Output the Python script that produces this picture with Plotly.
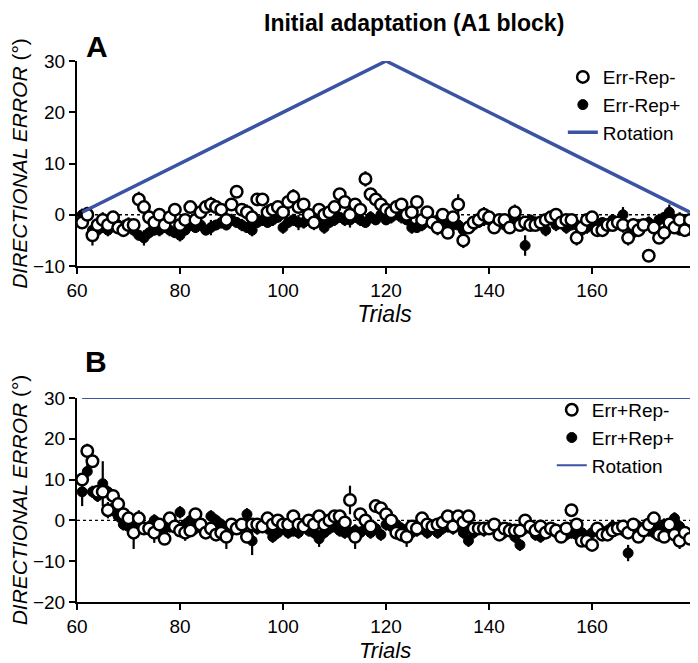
import plotly.graph_objects as go

FONT = "Liberation Sans, Arial, sans-serif"

trials = list(range(61, 180))

# Panel A: Err-Rep- (open) and Err-Rep+ (filled)
a_open = [
    -1.5, 0, -4, -2, -1, -2, -0.5, -2.5, -3, -2,
    -2, 3, 1.5, -0.5, -1.5, 0, -2, -0.5, 1, -2,
    -1, 1.5, -1, 0.5, 1.5, 2, 1.5, 1, -1, 2,
    4.5, 1, 0.5, -0.5, 3, 3, 0.5, 1, 1.5, 0.5,
    2.5, 3.5, 1.5, 2, 0, -1.5, 1, 0, 0.5, 1.5,
    4, 2.5, 0, 2, 1, 7, 4, 3, 2, 1,
    0.5, 1.5, 2, 0, 0.5, 2.5, -1, 0.5, -1.5, -2.5,
    0, -3.5, -0.5, 2, -5, -2.5, -1.5, -1, 0, -0.5,
    -2.5, -1, -1, -2.5, 0.5, -2, -1.5, -2, -2, -1.5,
    -1, -0.5, 0, -1.5, -1, -1, -4.5, -2.5, -1, -0.5,
    -3, -3, -2, -2, -1.5, -2, -4.5, -2, -3, -2,
    -8, -2.5, -4.5, -3.5, -1.5, -2.5, -1, -3, -1,
]
a_open_err = [
    1.0, 1.2, 2.0, 1.2, 1.5, 1.0, 1.2, 1.0, 1.2, 1.5,
    1.2, 1.5, 1.2, 1.0, 1.2, 1.0, 1.5, 1.0, 1.2, 1.0,
    1.0, 1.2, 1.5, 1.0, 1.2, 1.5, 1.0, 1.2, 1.5, 1.0,
    1.2, 1.0, 1.5, 1.0, 1.2, 1.0, 1.5, 1.0, 1.2, 1.0,
    1.2, 1.5, 1.0, 1.2, 1.0, 1.5, 1.0, 1.2, 1.0, 1.2,
    1.2, 1.0, 1.5, 1.0, 1.2, 1.5, 1.2, 1.0, 1.2, 1.0,
    1.0, 1.2, 1.0, 1.5, 1.0, 1.0, 1.2, 1.0, 1.2, 1.5,
    1.2, 1.0, 1.2, 2.0, 1.5, 1.0, 1.2, 1.0, 1.5, 1.0,
    1.2, 1.0, 1.0, 1.2, 1.5, 1.0, 1.2, 1.0, 1.0, 1.2,
    1.0, 1.2, 1.0, 1.0, 1.2, 1.0, 1.5, 1.0, 1.2, 1.0,
    1.2, 1.0, 1.0, 1.2, 1.0, 1.5, 1.2, 1.0, 1.2, 1.0,
    1.2, 1.0, 1.2, 1.5, 1.0, 1.2, 1.5, 1.0, 1.0,
]
a_fill = [
    0, 0.5, -3, -3, -2.5, -3, -2, -2, -2.5, -2,
    -3, -4, -4.5, -3.5, -3, -3, -2.5, -3, -3.5, -4,
    -3, -2, -2.5, -2, -3, -2.5, -2, -1.5, -2, -1,
    -1.5, -2, -2.5, -3, -1.5, -1, -1.5, -1, -0.5, -2.5,
    -1.5, -1, -1.5, -1.5, -1, -0.5, -1, -2.5, -1.5, -1,
    -0.5, -1, -1, -0.5, -1, -1.5, -0.5, -1, 0, -1,
    -0.5, 0, -0.5, -1, -2.5, -2.5, -2, -1, -1.5, -1,
    -2, -1, -2, -2, -3, -2.5, -2, -1.5, -1, -1,
    -1.5, -1, -2, -1, 0, -1.5, -6, -1, -1.5, -2,
    -3, -1, -2, -1.5, -2.5, -2, -2, -3, -2.5, -2,
    -2, -1.5, -2, -1, -1.5, 0, -4.5, -3.5, -2, -2,
    -1.5, -2, -1, -0.5, 0.5, -1, -3, -3, -3,
]
a_fill_err = [
    1.2, 1.0, 1.5, 1.2, 1.0, 1.2, 1.0, 1.2, 1.5, 1.0,
    1.2, 1.0, 1.5, 1.2, 1.0, 1.2, 1.0, 1.2, 1.0, 1.2,
    1.0, 1.2, 1.0, 1.2, 1.0, 1.5, 1.0, 1.2, 1.0, 1.2,
    1.0, 1.2, 1.0, 1.2, 1.0, 1.2, 1.0, 1.2, 1.0, 1.2,
    1.0, 1.2, 1.5, 1.2, 1.0, 1.2, 1.0, 1.2, 1.0, 1.2,
    1.0, 1.2, 1.5, 1.0, 1.2, 1.0, 1.2, 1.0, 1.2, 1.0,
    1.2, 1.0, 1.2, 1.0, 1.2, 1.0, 1.2, 1.0, 1.2, 1.0,
    1.2, 1.0, 1.2, 1.0, 1.2, 1.0, 1.2, 1.0, 1.2, 1.0,
    1.0, 1.2, 1.0, 1.2, 1.0, 1.2, 2.0, 1.0, 1.2, 1.0,
    1.2, 1.0, 1.2, 1.0, 1.2, 1.0, 1.2, 1.0, 1.2, 1.0,
    1.2, 1.0, 1.2, 1.0, 1.2, 1.5, 1.5, 1.0, 1.2, 1.0,
    1.2, 1.0, 1.2, 1.0, 1.5, 1.2, 1.0, 1.2, 1.0,
]

# Panel B: Err+Rep- (open) and Err+Rep+ (filled)
b_open = [
    10, 17, 14.5, 7, 7, 2.5, 6, 4, 1.5, 0.5,
    -3, 0.5, -2, -2, -3, -1, -4.5, 0.5, -1.5, -2.5,
    -3, -2.5, 1.5, -1, -3, -2, -3.5, -3, -4, -1,
    -2, -1, -4, -1, -1, -1.5, 0.5, -1, 0, -1,
    -1, 1, -1, -1.5, 0, -1, 1, -1, 0, 1,
    1, -0.5, 5, -4, 1.5, 0, -1.5, 3.5, 3, 1.5,
    0, -3, -3.5, -4, -1.5, -2, 0.5, -1, -1.5, -1,
    -0.5, 1, -1.5, 1, -0.5, 1, -2, -2, -2, -2,
    -1, -3.5, -2, -2.5, -2.5, -2.5, 0, -1.5, -2.5, -1.5,
    -3, -2, -2.5, -4, -2, 2.5, -1, -5, -5, -6,
    -2, -3.5, -3.5, -2.5, -2, -1.5, -3, -1, -4, -2.5,
    -1, 0.5, -3.5, -4, -1, -3.5, -5, -3, -4.5,
]
b_open_err = [
    1.5, 1.8, 1.5, 1.5, 1.2, 2.0, 1.5, 2.0, 1.5, 1.5,
    4.0, 2.0, 1.5, 1.5, 2.5, 1.5, 1.5, 1.5, 1.5, 1.5,
    2.0, 1.5, 1.5, 1.5, 1.5, 1.5, 1.5, 2.0, 3.0, 1.5,
    1.5, 1.5, 1.5, 1.5, 1.5, 1.5, 1.5, 1.2, 1.5, 1.5,
    1.5, 1.2, 1.5, 1.5, 1.2, 1.5, 1.5, 1.2, 1.5, 1.5,
    1.5, 2.0, 3.5, 3.0, 1.5, 1.5, 1.5, 1.5, 1.5, 1.5,
    1.5, 1.5, 1.5, 2.5, 1.5, 1.2, 1.5, 1.5, 1.2, 1.5,
    1.5, 1.5, 1.2, 1.5, 1.5, 1.5, 1.2, 1.5, 1.5, 1.2,
    1.5, 1.5, 1.5, 1.2, 1.5, 1.5, 1.5, 1.2, 1.5, 1.5,
    1.5, 1.2, 1.5, 1.5, 1.5, 1.5, 1.5, 1.5, 1.5, 1.5,
    1.5, 1.2, 1.5, 1.5, 1.2, 1.5, 1.5, 1.5, 1.5, 1.2,
    1.5, 1.5, 1.5, 1.5, 1.2, 1.5, 2.0, 1.5, 1.5,
]
b_fill = [
    7, 12, 7, 6, 9, 7, 3, 1, -1, -1.5,
    -2, -1.5, -2, -1.5, 0, -2.5, -2, -1.5, -1, 2,
    -1, 0, -2, -1, -2.5, 1, 0, -1, -2, -2.5,
    -1.5, -2, 1.5, -5, -2, -1.5, -2, -4, -3, -2,
    -3, -2.5, -3, -1.5, -2.5, -3, -4.5, -3, -2, -1.5,
    -2.5, -3, -3, -2.5, -3, -2, -3, -2, -3.5, -1,
    -1.5, -1, -2, -2.5, -3, -2.5, -2, -3, -2, -3,
    -2, -1.5, -2, -1, -3, -5, -3, -2, -2.5, -1.5,
    -2, -2.5, -3, -2, -4, -6, -2, -2, -3.5, -4,
    -3, -2, -3, -2.5, -3.5, -3, -3.5, -3, -4, -3,
    -2, -3, -2.5, -1.5, -2, -2.5, -8, -2.5, -1.5, -2,
    -2.5, -3, -2, -1, -2.5, 0.5, -1.5, -3, -3.5,
]
b_fill_err = [
    3.5, 2.0, 1.5, 1.5, 5.5, 1.5, 2.0, 1.5, 1.5, 1.5,
    1.5, 1.5, 1.5, 1.5, 1.5, 1.5, 1.5, 1.5, 1.5, 1.5,
    1.5, 1.5, 1.5, 1.5, 1.5, 1.5, 1.5, 1.5, 1.5, 1.5,
    1.5, 1.5, 1.5, 3.5, 1.5, 1.5, 1.5, 1.5, 1.5, 1.5,
    1.5, 1.5, 1.5, 1.5, 1.5, 1.5, 2.0, 1.5, 1.5, 1.5,
    1.5, 1.5, 1.5, 1.5, 1.5, 1.5, 1.5, 1.5, 1.5, 1.5,
    1.5, 1.5, 1.5, 1.5, 1.5, 1.5, 1.5, 1.5, 1.5, 1.5,
    1.5, 1.5, 1.5, 1.5, 1.5, 1.5, 1.5, 1.5, 1.5, 1.5,
    1.5, 1.5, 1.5, 1.5, 1.5, 1.5, 1.5, 1.5, 1.5, 1.5,
    1.5, 1.5, 1.5, 1.5, 1.5, 1.5, 1.5, 1.5, 1.5, 1.5,
    1.5, 1.5, 1.5, 1.5, 1.5, 1.5, 2.0, 1.5, 1.5, 1.5,
    1.5, 1.5, 1.5, 1.5, 1.5, 1.5, 1.5, 1.5, 1.5,
]

# Rotation schedules
rot_trials_a = [61, 120, 179]
rot_a = [0.5, 30, 0.5]
rot_trials_b = [61, 179]
rot_b = [30, 30]

x_ticks = [60, 80, 100, 120, 140, 160]
y_ticks_a = [-10, 0, 10, 20, 30]
y_ticks_b = [-20, -10, 0, 10, 20, 30]

BLUE = "#3a53a4"

fig = go.Figure()


def add_panel(xa, ya, legend, open_y, open_e, fill_y, fill_e, names, rx, ry, rwidth):
    fig.add_trace(go.Scatter(
        x=trials, y=fill_y, mode="markers", name=names[1], legend=legend, legendrank=2,
        xaxis=xa, yaxis=ya,
        marker=dict(symbol="circle", size=10, color="black", line=dict(color="black", width=1)),
        error_y=dict(type="data", array=fill_e, color="black", thickness=2.2, width=0),
    ))
    fig.add_trace(go.Scatter(
        x=trials, y=open_y, mode="markers", name=names[0], legend=legend, legendrank=1,
        xaxis=xa, yaxis=ya,
        marker=dict(symbol="circle", size=11.5, color="white", line=dict(color="black", width=2.5)),
        error_y=dict(type="data", array=open_e, color="black", thickness=2.2, width=0),
    ))
    fig.add_trace(go.Scatter(
        x=rx, y=ry, mode="lines", name="Rotation", legend=legend, legendrank=3,
        xaxis=xa, yaxis=ya, line=dict(color=BLUE, width=rwidth),
    ))


add_panel("x", "y", "legend", a_open, a_open_err, a_fill, a_fill_err,
          ["Err-Rep-", "Err-Rep+"], rot_trials_a, rot_a, 3.5)
add_panel("x2", "y2", "legend2", b_open, b_open_err, b_fill, b_fill_err,
          ["Err+Rep-", "Err+Rep+"], rot_trials_b, rot_b, 2)

axis_common = dict(
    showline=True, linecolor="black", linewidth=2, ticks="outside", ticklen=6,
    tickwidth=2, tickcolor="black", showgrid=False, zeroline=False,
    tickfont=dict(family=FONT, size=19, color="black"), mirror=False,
)

TITLE_FONT_X = dict(family=FONT, size=23, color="black")

ytitle = dict(text="<i>DIRECTIONAL ERROR</i> (°)", font=dict(family=FONT, size=21, color="black"), standoff=2)

fig.update_layout(
    width=690, height=655,
    margin=dict(l=69, r=6, t=32, b=40),
    plot_bgcolor="white", paper_bgcolor="white",
    font=dict(family=FONT, color="black"),
    xaxis=dict(axis_common, range=[60, 179.4], tickvals=x_ticks, domain=[0, 1], anchor="y",
               title=dict(text="<i>Trials</i>", font=TITLE_FONT_X, standoff=0)),
    yaxis=dict(axis_common, domain=[0.6123, 0.964], anchor="x", range=[-10, 30], tickvals=y_ticks_a,
               title=ytitle),
    xaxis2=dict(axis_common, range=[60, 179.4], tickvals=x_ticks, domain=[0, 1], anchor="y2"),
    yaxis2=dict(axis_common, domain=[0.036, 0.386], anchor="x2", range=[-20, 30], tickvals=y_ticks_b,
                title=ytitle),
    legend=dict(x=0.79, y=0.969, xanchor="left", yanchor="top", bgcolor="rgba(0,0,0,0)",
                font=dict(family=FONT, size=19, color="black"), tracegroupgap=0, itemwidth=30),
    legend2=dict(x=0.772, y=0.398, xanchor="left", yanchor="top", bgcolor="rgba(0,0,0,0)",
                 font=dict(family=FONT, size=19, color="black"), tracegroupgap=0, itemwidth=30),
    showlegend=True,
    shapes=[
        dict(type="line", xref="x domain", yref="y", x0=0, x1=1, y0=0, y1=0,
             line=dict(color="black", width=1.3, dash="dot"), layer="below"),
        dict(type="line", xref="x2 domain", yref="y2", x0=0, x1=1, y0=0, y1=0,
             line=dict(color="black", width=1.3, dash="dot"), layer="below"),
    ],
    annotations=[
        dict(text="<b>Initial adaptation (A1 block)</b>", xref="paper", yref="paper", x=0.548, y=1.0549,
             showarrow=False, font=dict(family=FONT, size=23, color="black"), xanchor="center", yanchor="top"),
        dict(text="<b>A</b>", xref="paper", yref="paper", x=0.0325, y=0.988, showarrow=False,
             font=dict(family=FONT, size=30, color="black"), xanchor="center", yanchor="middle"),
        dict(text="<b>B</b>", xref="paper", yref="paper", x=0.031, y=0.4477, showarrow=False,
             font=dict(family=FONT, size=30, color="black"), xanchor="center", yanchor="middle"),
        dict(text="<i>Trials</i>", xref="paper", yref="paper", x=0.5, y=-0.0215, showarrow=False,
             font=dict(family=FONT, size=22, color="black"), xanchor="center", yanchor="top"),
    ],
)

fig.write_html("out.html")
